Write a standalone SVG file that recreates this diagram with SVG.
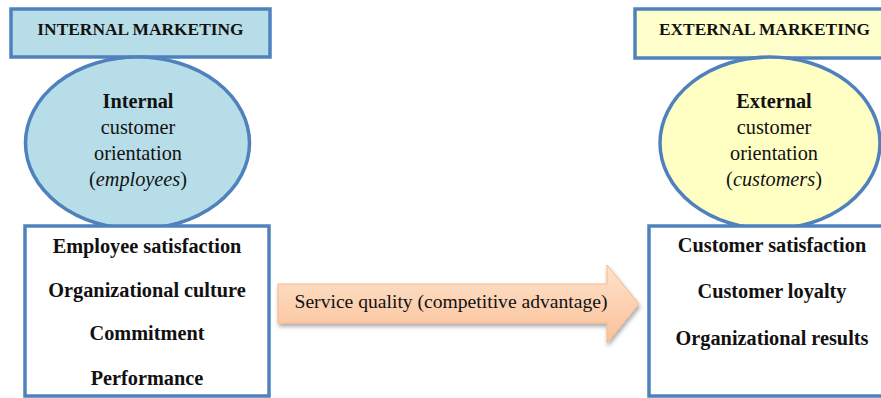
<svg xmlns="http://www.w3.org/2000/svg" width="881" height="398" viewBox="0 0 881 398">
<style>
.bx{stroke:#4f81bd;stroke-width:3.5}
.t{font-family:"Liberation Serif",serif;fill:#111;text-anchor:middle}
.b{font-weight:bold}
.h{font-size:17.4px;font-weight:bold}
.e{font-size:20.3px}
.l{font-size:20.3px;font-weight:bold}
</style>
<defs>
<linearGradient id="ag" x1="0" y1="0" x2="0" y2="1">
<stop offset="0" stop-color="#fde3cd"/>
<stop offset="1" stop-color="#fbc097"/>
</linearGradient>
<filter id="sh" x="-10%" y="-20%" width="120%" height="150%">
<feGaussianBlur in="SourceAlpha" stdDeviation="2"/>
<feOffset dx="1" dy="3"/>
<feComponentTransfer><feFuncA type="linear" slope="0.35"/></feComponentTransfer>
<feMerge><feMergeNode/><feMergeNode in="SourceGraphic"/></feMerge>
</filter>
</defs>
<rect width="881" height="398" fill="#fff"/>

<g id="internal-title">
<rect class="bx" x="11" y="9" width="259" height="48" fill="#b7dee8"/>
<text class="t h" x="140.5" y="35">INTERNAL MARKETING</text>
</g>
<g id="internal-ellipse">
<ellipse class="bx" cx="137.5" cy="143" rx="112" ry="86" fill="#b7dee8"/>
<text class="t e b" x="138" y="108">Internal</text>
<text class="t e" x="138" y="134">customer</text>
<text class="t e" x="138" y="160">orientation</text>
<text class="t e" x="138" y="186">(<tspan font-style="italic">employees</tspan>)</text>
</g>
<g id="internal-box">
<rect class="bx" x="25" y="226" width="244" height="170" fill="#fff"/>
<text class="t l" x="147" y="253">Employee satisfaction</text>
<text class="t l" x="147" y="297">Organizational culture</text>
<text class="t l" x="147" y="340">Commitment</text>
<text class="t l" x="147" y="385">Performance</text>
</g>

<g id="external-title">
<rect class="bx" x="635" y="9" width="260" height="49" fill="#ffffcc"/>
<text class="t h" x="764.5" y="35">EXTERNAL MARKETING</text>
</g>
<g id="external-ellipse">
<ellipse class="bx" cx="770" cy="143" rx="110" ry="86" fill="#ffffc4"/>
<text class="t e b" x="774" y="108">External</text>
<text class="t e" x="774" y="134">customer</text>
<text class="t e" x="774" y="160">orientation</text>
<text class="t e" x="774" y="186">(<tspan font-style="italic">customers</tspan>)</text>
</g>
<g id="external-box">
<rect class="bx" x="649" y="226" width="245" height="170" fill="#fff"/>
<text class="t l" x="772" y="252">Customer satisfaction</text>
<text class="t l" x="772" y="298">Customer loyalty</text>
<text class="t l" x="772" y="345">Organizational results</text>
</g>

<g id="connectors">
<g id="service-quality-arrow">
<path d="M278,284 H607 V265 L639,304 L607,343 V323 H278 Z" fill="url(#ag)" stroke="#f8b88b" stroke-width="1" filter="url(#sh)"/>
<text class="t" x="451" y="308" font-size="19px" textLength="313" lengthAdjust="spacingAndGlyphs">Service quality (competitive advantage)</text>
</g>
</g>
</svg>
